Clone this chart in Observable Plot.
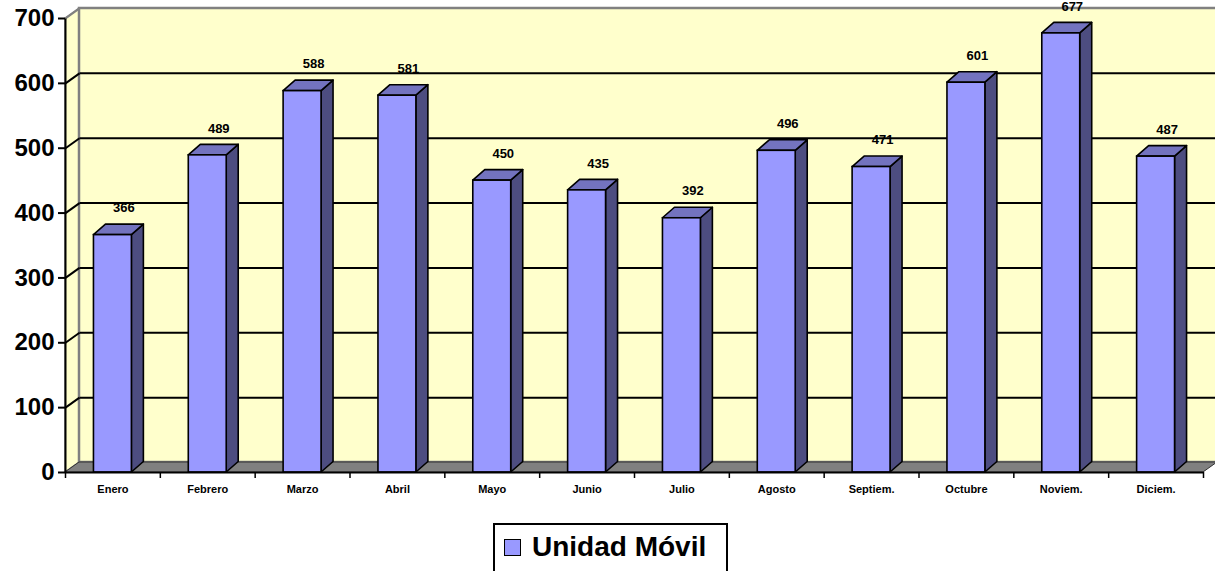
<!DOCTYPE html>
<html>
<head>
<meta charset="utf-8">
<script src="https://cdn.jsdelivr.net/npm/d3@7"></script>
<script src="https://cdn.jsdelivr.net/npm/@observablehq/plot@0.6"></script>
<style>
  html, body { margin: 0; padding: 0; background: #fff; }
  body { width: 1215px; height: 571px; overflow: hidden; position: relative; font-family: Arial, "Liberation Sans", sans-serif; }
  #legend { position: absolute; left: 493px; top: 523px; width: 231px; height: 60px; border: 2px solid #000; background: #fff; box-sizing: content-box; }
  #legend .sw { position: absolute; left: 9px; top: 14px; width: 15px; height: 15px; background: #9999FF; border: 1.5px solid #000; }
  #legend .lb { position: absolute; left: 37px; top: 6px; font-weight: bold; font-size: 28px; line-height: 32px; color: #000; white-space: nowrap; }
</style>
</head>
<body>
<div id="chart"></div>
<div id="legend"><div class="sw"></div><div class="lb">Unidad Móvil</div></div>
<script>
const months = ["Enero","Febrero","Marzo","Abril","Mayo","Junio","Julio","Agosto","Septiem.","Octubre","Noviem.","Diciem."];
const values = [366, 489, 588, 581, 450, 435, 392, 496, 471, 601, 677, 487];
const yTicks = [0, 100, 200, 300, 400, 500, 600, 700];
const seriesName = "Unidad Móvil";

const W = 1215, H = 510;
const mL = 65, mR = 12, mT = 18, mB = 38;
const n = months.length, yMax = 700;
const pxX = (W - mL - mR) / n;          // pixels per category
const pxY = (H - mT - mB) / yMax;       // pixels per unit
// depth offsets (converted from pixel offsets into data units)
const wdx = 14 / pxX, wdy = 10 / pxY;   // walls
const bdx = 12 / pxX, bdy = 10.5 / pxY; // bars
const half = 0.2;

const bars = values.map((v, i) => ({i, v, zero: 0, cx: i + 0.5, x1: i + 0.5 - half, x2: i + 0.5 + half, label: String(v)}));
const sides = bars.flatMap(b => [
  {k: b.i, x: b.x2, y1: 0, y2: b.v},
  {k: b.i, x: b.x2 + bdx, y1: bdy, y2: b.v + bdy}
]);
const tops = bars.flatMap(b => [
  {k: b.i, y: b.v, x1: b.x1, x2: b.x2},
  {k: b.i, y: b.v + bdy, x1: b.x1 + bdx, x2: b.x2 + bdx}
]);
const sideWall = [{x: 0, y1: 0, y2: yMax}, {x: wdx, y1: wdy, y2: yMax + wdy}];
const backWall = [{x1: wdx, x2: n + wdx, y1: wdy, y2: yMax + wdy}];
const floor = [{y: 0, x1: 0, x2: n}, {y: wdy, x1: wdx, x2: n + wdx}];
const grid = yTicks.filter(t => t > 0 && t < yMax);
const backGrid = grid.map(t => ({x1: wdx, x2: n + wdx, y1: t + wdy, y2: t + wdy}));
const sideGrid = grid.map(t => ({x1: 0, x2: wdx, y1: t, y2: t + wdy}));
const sideTop = [{x1: 0, x2: wdx, y1: yMax, y2: yMax + wdy}];
const xAxisLine = [{x1: 0, x2: n, y1: 0, y2: 0}];
const yAxisLine = [{x1: 0, x2: 0, y1: 0, y2: yMax}];
const boundaries = d3.range(n + 1);
const centers = d3.range(n).map(i => i + 0.5);

const chart = Plot.plot({
  width: W, height: H,
  marginLeft: mL, marginRight: mR, marginTop: mT, marginBottom: mB,
  x: {type: "linear", domain: [0, n], axis: null},
  y: {type: "linear", domain: [0, yMax], axis: null},
  style: {fontFamily: 'Arial, "Liberation Sans", sans-serif', fontWeight: "bold", background: "transparent", overflow: "visible", color: "#000"},
  marks: [
    Plot.areaY(sideWall, {x: "x", y1: "y1", y2: "y2", fill: "#FFFFCC", stroke: "#808080", strokeWidth: 1.5}),
    Plot.rect(backWall, {x1: "x1", x2: "x2", y1: "y1", y2: "y2", fill: "#FFFFCC", stroke: "#808080", strokeWidth: 2.5}),
    Plot.link(backGrid, {x1: "x1", x2: "x2", y1: "y1", y2: "y2", stroke: "#000", strokeWidth: 2}),
    Plot.link(sideGrid, {x1: "x1", x2: "x2", y1: "y1", y2: "y2", stroke: "#000", strokeWidth: 2}),
    Plot.link(sideTop, {x1: "x1", x2: "x2", y1: "y1", y2: "y2", stroke: "#808080", strokeWidth: 2}),
    Plot.areaX(floor, {y: "y", x1: "x1", x2: "x2", fill: "#808080", stroke: "#333", strokeWidth: 1}),
    Plot.areaY(sides, {x: "x", y1: "y1", y2: "y2", z: "k", fill: "#4D4D80", stroke: "#000", strokeWidth: 1.6}),
    Plot.areaX(tops, {y: "y", x1: "x1", x2: "x2", z: "k", fill: "#7373BF", stroke: "#000", strokeWidth: 1.6}),
    Plot.rect(bars, {x1: "x1", x2: "x2", y1: "zero", y2: "v", fill: "#9999FF", stroke: "#000", strokeWidth: 1.6}),
    Plot.text(bars, {x: "cx", y: "v", text: "label", dx: 11, dy: -27, fontSize: 13, fontWeight: "bold", fill: "#000"}),
    Plot.link(xAxisLine, {x1: "x1", x2: "x2", y1: "y1", y2: "y2", stroke: "#000", strokeWidth: 2}),
    Plot.link(yAxisLine, {x1: "x1", x2: "x2", y1: "y1", y2: "y2", stroke: "#000", strokeWidth: 2}),
    Plot.axisY({ticks: yTicks, tickSize: 7, tickPadding: 4, fontSize: 24, fontWeight: "bold", strokeWidth: 2, tickFormat: d => String(d)}),
    Plot.axisX({ticks: boundaries, tickSize: 6, strokeWidth: 1.5, tickFormat: () => ""}),
    Plot.axisX({ticks: centers, tickSize: 0, tickPadding: 13, fontSize: 11, fontWeight: "bold", tickFormat: d => months[Math.round(d - 0.5)]})
  ]
});
document.getElementById("chart").appendChild(chart);
</script>
</body>
</html>
